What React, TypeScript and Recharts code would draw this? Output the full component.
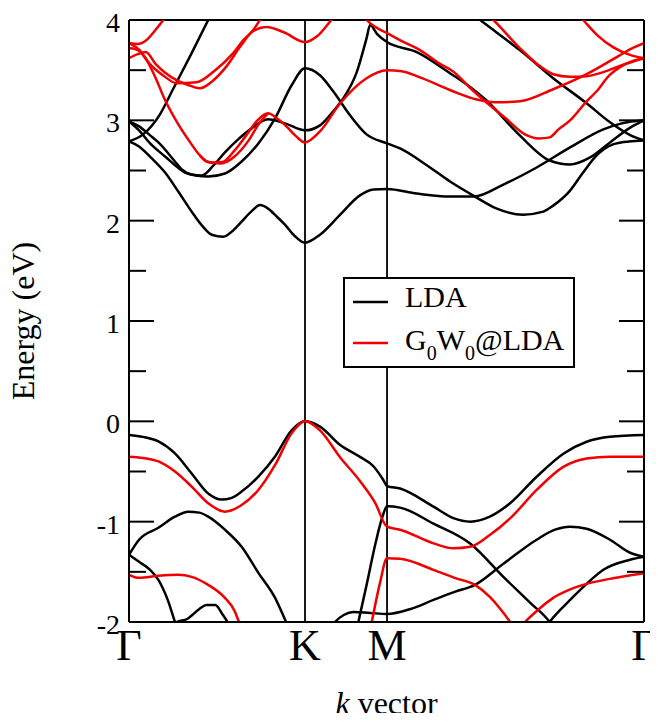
import React from 'react';
import { LineChart, Line, XAxis, YAxis, ReferenceLine, Legend } from 'recharts';

const FONT = '"Liberation Serif", "Times New Roman", serif';
const BLACK = '#000000';
const RED = '#f00000';

// ---- axes ----
const X_TICKS = [0, 1, 1.466, 2.926];
const X_LABELS = ['Γ', 'K', 'M', 'Γ'];
const Y_DOMAIN: [number, number] = [-2, 4];
const Y_MAJOR = [-2, -1, 0, 1, 2, 3, 4];
const Y_MINOR = [-1.5, -0.5, 0.5, 1.5, 2.5, 3.5];
const Y_ALL_TICKS = [...Y_MAJOR, ...Y_MINOR].sort((a, b) => a - b);
const NAME_LDA = 'LDA';
const NAME_GW = 'G0W0@LDA';
const LEGEND_ORDER = [NAME_LDA, NAME_GW];

// ---- LDA bands [k, E] ----
const LDA_C1 = [[0, 2.79], [0.057, 2.74], [0.13, 2.62], [0.205, 2.48], [0.28, 2.29], [0.356, 2.09], [0.42, 1.94], [0.47, 1.86], [0.536, 1.84], [0.59, 1.9], [0.64, 1.99], [0.7, 2.1], [0.745, 2.155], [0.79, 2.12], [0.84, 2.04], [0.886, 1.96], [0.94, 1.85], [1.0, 1.78], [1.085, 1.86], [1.2, 2.06], [1.31, 2.25], [1.39, 2.31], [1.466, 2.315], [1.635, 2.27], [1.824, 2.24], [1.96, 2.24], [2.127, 2.36], [2.316, 2.53], [2.506, 2.73], [2.695, 2.91], [2.8, 2.97], [2.926, 3.0]];
const LDA_Q = [[0, 2.99], [0.057, 2.9], [0.12, 2.77], [0.205, 2.64], [0.318, 2.48], [0.38, 2.45], [0.45, 2.44], [0.545, 2.47], [0.64, 2.59], [0.735, 2.77], [0.83, 3.02], [0.924, 3.35], [1.0, 3.52], [1.085, 3.45], [1.16, 3.29], [1.256, 3.05], [1.35, 2.86], [1.466, 2.77], [1.54, 2.72], [1.69, 2.555], [1.824, 2.39], [1.966, 2.24], [2.09, 2.12], [2.24, 2.06], [2.354, 2.09], [2.41, 2.15], [2.506, 2.3], [2.58, 2.48], [2.657, 2.65], [2.75, 2.76], [2.84, 2.79], [2.926, 2.8]];
const LDA_P = [[0, 2.99], [0.057, 2.94], [0.12, 2.85], [0.167, 2.78], [0.261, 2.59], [0.3, 2.51], [0.356, 2.46], [0.413, 2.45], [0.48, 2.55], [0.545, 2.68], [0.62, 2.81], [0.697, 2.92], [0.79, 3.01], [0.886, 2.97], [1.0, 2.9], [1.085, 2.95], [1.16, 3.09], [1.218, 3.22], [1.294, 3.48], [1.35, 3.82], [1.37, 3.95], [1.41, 3.86], [1.466, 3.78], [1.635, 3.68], [1.824, 3.47], [1.94, 3.33], [2.03, 3.2], [2.22, 2.85], [2.39, 2.6], [2.506, 2.56], [2.62, 2.63], [2.733, 2.78], [2.85, 2.93], [2.926, 3.0]];
const LDA_S = [[0, 2.79], [0.08, 2.86], [0.176, 3.06], [0.25, 3.31], [0.356, 3.67], [0.45, 4.0], [0.52, 4.25]];
const LDA_T = [[1.9, 4.13], [1.995, 4.0], [2.1, 3.86], [2.22, 3.7], [2.41, 3.42], [2.6, 3.17], [2.733, 2.98], [2.85, 2.85], [2.926, 2.8]];
const LDA_V1 = [[0, -0.136], [0.08, -0.155], [0.167, -0.2], [0.261, -0.32], [0.356, -0.52], [0.45, -0.72], [0.526, -0.78], [0.58, -0.765], [0.64, -0.7], [0.735, -0.55], [0.83, -0.35], [0.924, -0.09], [1.0, 0.0], [1.085, -0.053], [1.2, -0.236], [1.31, -0.352], [1.39, -0.45], [1.445, -0.585], [1.466, -0.645], [1.54, -0.67], [1.73, -0.85], [1.843, -0.965], [1.94, -1.0], [2.05, -0.95], [2.165, -0.817], [2.316, -0.552], [2.47, -0.32], [2.6, -0.203], [2.733, -0.153], [2.926, -0.136]];
const LDA_V2 = [[0, -1.33], [0.057, -1.18], [0.167, -1.06], [0.261, -0.95], [0.337, -0.9], [0.4, -0.91], [0.45, -0.95], [0.545, -1.08], [0.64, -1.25], [0.735, -1.51], [0.83, -1.76], [0.88, -1.95], [0.93, -2.15]];
const LDA_V3 = [[0, -1.33], [0.057, -1.4], [0.12, -1.48], [0.167, -1.58], [0.22, -1.78], [0.261, -2.0], [0.29, -2.15]];
const LDA_V4 = [[0.24, -2.1], [0.27, -2.0], [0.33, -1.97], [0.4, -1.87], [0.44, -1.83], [0.49, -1.83], [0.53, -1.92], [0.56, -2.0], [0.59, -2.1]];
const LDA_V5 = [[1.27, -2.25], [1.303, -2.0], [1.35, -1.63], [1.4, -1.22], [1.44, -0.95], [1.466, -0.847], [1.54, -0.86], [1.73, -1.02], [1.94, -1.22], [2.127, -1.55], [2.28, -1.81], [2.39, -2.0], [2.42, -2.08]];
const LDA_V6 = [[2.36, -2.08], [2.39, -2.0], [2.45, -1.88], [2.506, -1.78], [2.6, -1.62], [2.695, -1.48], [2.847, -1.38], [2.926, -1.35]];
const LDA_V7 = [[1.12, -2.12], [1.17, -2.0], [1.22, -1.93], [1.275, -1.9], [1.37, -1.91], [1.466, -1.92], [1.6, -1.87], [1.73, -1.78], [1.85, -1.7], [1.966, -1.63], [2.127, -1.42], [2.316, -1.18], [2.42, -1.08], [2.506, -1.05], [2.6, -1.07], [2.733, -1.18], [2.847, -1.31], [2.926, -1.35]];

// ---- G0W0@LDA bands [k, E] ----
const GW_V1 = [[0, -0.352], [0.08, -0.365], [0.167, -0.4], [0.261, -0.5], [0.356, -0.65], [0.45, -0.817], [0.545, -0.9], [0.64, -0.834], [0.735, -0.684], [0.83, -0.435], [0.924, -0.12], [1.0, 0.0], [1.085, -0.09], [1.2, -0.36], [1.31, -0.59], [1.4, -0.817], [1.466, -1.05], [1.54, -1.08], [1.73, -1.216], [1.843, -1.265], [1.94, -1.25], [2.05, -1.133], [2.165, -0.968], [2.316, -0.684], [2.47, -0.452], [2.6, -0.37], [2.733, -0.352], [2.926, -0.352]];
const GW_V2 = [[0, -1.53], [0.057, -1.56], [0.167, -1.54], [0.28, -1.53], [0.356, -1.55], [0.45, -1.63], [0.545, -1.76], [0.6, -1.89], [0.625, -2.0], [0.66, -2.15]];
const GW_V3 = [[1.35, -2.25], [1.379, -2.0], [1.426, -1.61], [1.466, -1.365], [1.54, -1.37], [1.73, -1.48], [1.85, -1.56], [1.966, -1.63], [2.05, -1.75], [2.11, -1.87], [2.165, -2.0], [2.2, -2.1]];
const GW_V4 = [[2.2, -2.1], [2.25, -2.0], [2.33, -1.87], [2.41, -1.76], [2.5, -1.68], [2.6, -1.62], [2.733, -1.57], [2.85, -1.535], [2.926, -1.515]];
const GW_UP = [[0, 3.77], [0.05, 3.76], [0.1, 3.8], [0.15, 3.9], [0.195, 4.0], [0.25, 4.13]];
const GW_P1 = [[0, 3.62], [0.05, 3.66], [0.095, 3.68], [0.152, 3.56], [0.27, 3.4], [0.34, 3.35], [0.403, 3.32], [0.48, 3.4], [0.555, 3.54], [0.63, 3.73], [0.706, 3.89], [0.782, 3.93], [0.877, 3.88], [1.0, 3.78], [1.07, 3.84], [1.15, 4.0], [1.2, 4.1]];
const GW_P2 = [[0, 3.77], [0.06, 3.7], [0.119, 3.56], [0.2, 3.44], [0.27, 3.37], [0.384, 3.38], [0.49, 3.5], [0.592, 3.67], [0.65, 3.8], [0.706, 3.9], [0.744, 4.0], [0.8, 4.12]];
const GW_A = [[0, 3.72], [0.05, 3.7], [0.1, 3.6], [0.152, 3.42], [0.2, 3.22], [0.27, 2.99], [0.34, 2.8], [0.403, 2.65], [0.46, 2.58], [0.53, 2.585], [0.6, 2.7], [0.67, 2.86], [0.73, 3.0], [0.79, 3.07], [0.84, 3.02], [0.894, 2.94], [0.95, 2.84], [1.0, 2.78], [1.085, 2.89], [1.2, 3.17], [1.35, 3.42], [1.466, 3.5], [1.55, 3.49], [1.65, 3.43], [1.84, 3.29], [1.97, 3.21], [2.08, 3.18], [2.22, 3.19], [2.41, 3.31], [2.6, 3.46], [2.79, 3.65], [2.86, 3.72], [2.926, 3.77]];
const GW_B = [[0.403, 2.65], [0.44, 2.59], [0.52, 2.57], [0.6, 2.64], [0.68, 2.8], [0.74, 2.97], [0.79, 3.07]];
const GW_M2 = [[1.3, 4.12], [1.35, 4.0], [1.4, 3.93], [1.466, 3.87], [1.55, 3.79], [1.653, 3.7], [1.77, 3.56], [1.84, 3.49], [1.94, 3.32], [2.03, 3.18], [2.14, 3.02], [2.25, 2.86], [2.33, 2.82], [2.39, 2.83], [2.44, 2.91], [2.506, 3.0], [2.6, 3.19], [2.657, 3.29], [2.73, 3.45], [2.79, 3.53], [2.86, 3.59], [2.926, 3.62]];
const GW_M3 = [[1.99, 4.12], [2.07, 4.0], [2.22, 3.72], [2.32, 3.56], [2.41, 3.46], [2.506, 3.435], [2.6, 3.44], [2.695, 3.48], [2.8, 3.55], [2.926, 3.62]];
const GW_M4 = [[2.5, 4.15], [2.58, 4.0], [2.66, 3.85], [2.75, 3.73], [2.85, 3.65], [2.926, 3.62]];

const LDA_BANDS = [LDA_C1, LDA_Q, LDA_P, LDA_S, LDA_T, LDA_V1, LDA_V2, LDA_V3, LDA_V4, LDA_V5, LDA_V6, LDA_V7];
const GW_BANDS = [GW_V1, GW_V2, GW_V3, GW_V4, GW_UP, GW_P1, GW_P2, GW_A, GW_B, GW_M2, GW_M3, GW_M4];

const toPoints = (band: number[][]) => band.map(([k, e]) => ({ k, e }));

const MAJOR_LEN = 25;
const MINOR_LEN = 17;
const LEFT_TICK_MARGIN = 9;

const renderLeftTick = (props: any) => {
  const { x, y, payload } = props;
  const major = Y_MAJOR.includes(payload.value);
  const edge = x + LEFT_TICK_MARGIN;
  return (
    <g>
      <line x1={edge} x2={edge + (major ? MAJOR_LEN : MINOR_LEN)} y1={y} y2={y} stroke={BLACK} strokeWidth={2} />
      {major && (
        <text x={x} y={y} dy={12} textAnchor="end" fontSize={28} fontFamily={FONT} fill={BLACK}>
          {String(payload.value)}
        </text>
      )}
    </g>
  );
};

const renderRightTick = (props: any) => {
  const { x, y, payload } = props;
  const major = Y_MAJOR.includes(payload.value);
  return <line x1={x} x2={x - (major ? MAJOR_LEN : MINOR_LEN)} y1={y} y2={y} stroke={BLACK} strokeWidth={2} />;
};

const renderXTick = (props: any) => {
  const { x, y, payload } = props;
  const idx = X_TICKS.indexOf(payload.value);
  return (
    <text x={x} y={y} dy={38} textAnchor="middle" fontSize={44} fontFamily={FONT} fill={BLACK}>
      {X_LABELS[idx] ?? ''}
    </text>
  );
};

const renderYLabel = (props: any) => {
  const vb = props.viewBox || {};
  const cx = vb.x + 34;
  const cy = vb.y + vb.height / 2;
  return (
    <text x={cx} y={cy} transform={`rotate(-90 ${cx} ${cy})`} textAnchor="middle" fontSize={32} fontFamily={FONT} fill={BLACK}>
      Energy (eV)
    </text>
  );
};

const renderXLabel = (props: any) => {
  const vb = props.viewBox || {};
  const cx = vb.x + vb.width / 2;
  const cy = vb.y + vb.height - 7;
  return (
    <text x={cx} y={cy} textAnchor="middle" fontSize={32} fontFamily={FONT} fill={BLACK}>
      <tspan fontStyle="italic">k</tspan> vector
    </text>
  );
};

const LEGEND_ROWS = [
  { line: 25, base: 30 },
  { line: 66, base: 73 },
];

const renderLegend = (props: any) => {
  const seen = new Set<string>();
  const items = (props.payload || [])
    .filter((p: any) => {
      if (seen.has(p.value)) return false;
      seen.add(p.value);
      return true;
    })
    .sort((a: any, b: any) => LEGEND_ORDER.indexOf(a.value) - LEGEND_ORDER.indexOf(b.value));
  return (
    <svg width={232} height={91} style={{ display: 'block' }}>
      <rect x={1} y={1} width={230} height={89} fill="#fff" stroke={BLACK} strokeWidth={2} />
      {items.map((it: any, i: number) => {
        const row = LEGEND_ROWS[i] || LEGEND_ROWS[0];
        return (
          <g key={it.value}>
            <line x1={10} x2={45} y1={row.line} y2={row.line} stroke={it.color} strokeWidth={2.5} />
            {it.value === NAME_GW ? (
              <text x={62} y={row.base} fontSize={30} fontFamily={FONT} fill={BLACK}>
                G<tspan fontSize={20} dy={10}>0</tspan>
                <tspan dy={-10}>W</tspan>
                <tspan fontSize={20} dy={10}>0</tspan>
                <tspan dy={-10}>@LDA</tspan>
              </text>
            ) : (
              <text x={62} y={row.base} fontSize={30} fontFamily={FONT} fill={BLACK}>
                {it.value}
              </text>
            )}
          </g>
        );
      })}
    </svg>
  );
};

export default function App() {
  return (
    <div style={{ margin: -8 }}>
      <LineChart width={658} height={721} margin={{ top: 20, right: 0, bottom: 0, left: 0 }}>
        <XAxis
          type="number"
          dataKey="k"
          domain={[X_TICKS[0], X_TICKS[X_TICKS.length - 1]]}
          ticks={X_TICKS}
          interval={0}
          allowDataOverflow
          height={99}
          tickLine={false}
          tickSize={0}
          tickMargin={0}
          axisLine={{ stroke: BLACK, strokeWidth: 2 }}
          tick={renderXTick}
          label={renderXLabel}
        />
        <YAxis
          yAxisId="left"
          orientation="left"
          type="number"
          domain={Y_DOMAIN}
          ticks={Y_ALL_TICKS}
          interval={0}
          allowDataOverflow
          width={129}
          tickLine={false}
          tickSize={0}
          tickMargin={LEFT_TICK_MARGIN}
          axisLine={{ stroke: BLACK, strokeWidth: 2 }}
          tick={renderLeftTick}
          label={renderYLabel}
        />
        <YAxis
          yAxisId="right"
          orientation="right"
          type="number"
          domain={Y_DOMAIN}
          ticks={Y_ALL_TICKS}
          interval={0}
          allowDataOverflow
          width={14}
          tickLine={false}
          tickSize={0}
          tickMargin={0}
          axisLine={{ stroke: BLACK, strokeWidth: 2 }}
          tick={renderRightTick}
        />

        <ReferenceLine yAxisId="left" y={Y_DOMAIN[1]} stroke={BLACK} strokeWidth={2} />
        <ReferenceLine yAxisId="left" x={X_TICKS[1]} stroke={BLACK} strokeWidth={1.8} />
        <ReferenceLine yAxisId="left" x={X_TICKS[2]} stroke={BLACK} strokeWidth={1.8} />

        {LDA_BANDS.map((b, i) => (
          <Line
            key={`lda-${i}`}
            yAxisId="left"
            data={toPoints(b)}
            dataKey="e"
            name={NAME_LDA}
            type="monotone"
            stroke={BLACK}
            strokeWidth={2.5}
            dot={false}
            activeDot={false}
            isAnimationActive={false}
          />
        ))}
        {GW_BANDS.map((b, i) => (
          <Line
            key={`gw-${i}`}
            yAxisId="right"
            data={toPoints(b)}
            dataKey="e"
            name={NAME_GW}
            type="monotone"
            stroke={RED}
            strokeWidth={2.5}
            dot={false}
            activeDot={false}
            isAnimationActive={false}
          />
        ))}

        <Legend
          layout="horizontal"
          verticalAlign="middle"
          align="center"
          content={renderLegend}
          wrapperStyle={{ left: 343, top: 277, width: 232, height: 91 }}
        />
      </LineChart>
    </div>
  );
}
